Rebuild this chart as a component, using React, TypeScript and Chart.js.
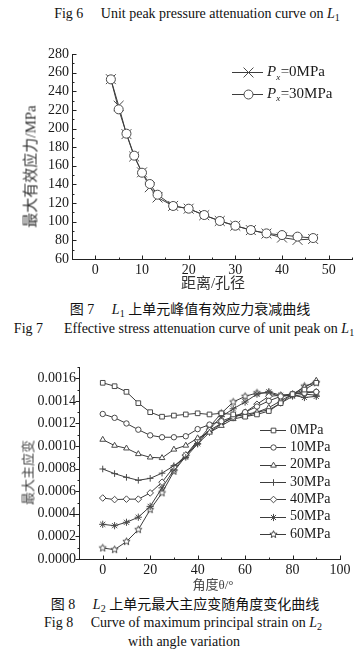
import React, { useEffect, useRef } from 'react';
import { Chart, registerables } from 'chart.js';
import { drawPoint } from 'chart.js/helpers';

Chart.register(...registerables);

// ---------------- Fig 7 data ----------------
const fig7Distance = [3.33, 5, 6.67, 8.33, 10, 11.67, 13.33, 16.67, 20, 23.33, 26.67, 30, 33.33, 36.67, 40, 43.33, 46.67];
const fig7Px0 = [253, 224.5, 194, 170, 153, 137, 126, 117, 114, 107, 100.8, 95.7, 91, 87.3, 83, 80.5, 81.5];
const fig7Px30 = [252.8, 220.6, 194.5, 170.9, 152.6, 140.5, 129, 116.9, 114, 107.2, 100.8, 95.7, 91.1, 87.5, 85.7, 84, 82.5];
const fig7Names = ['Px=0MPa', 'Px=30MPa'];
const fig7XTicks = [0, 10, 20, 30, 40, 50];
const fig7XMinor = [-5, 5, 15, 25, 35, 45, 55];
const fig7YTicks = [60, 80, 100, 120, 140, 160, 180, 200, 220, 240, 260, 280];
const fig7YMinor = [70, 90, 110, 130, 150, 170, 190, 210, 230, 250, 270];
const fig7XTitle = '距离/孔径';
const fig7YTitle = '最大有效应力/MPa';

// ---------------- Fig 8 data ----------------
const fig8Angles = [0, 5, 10, 15, 20, 25, 30, 35, 40, 45, 50, 55, 60, 65, 70, 75, 80, 85, 90];
const fig8P0 = [0.00156, 0.00153, 0.00148, 0.00138, 0.0013, 0.00126, 0.00127, 0.00128, 0.00129, 0.00128, 0.00129, 0.00128, 0.00126, 0.00128, 0.00131, 0.00138, 0.00146, 0.00150, 0.00156];
const fig8P10 = [0.001284, 0.00125, 0.0012, 0.001145, 0.001095, 0.001078, 0.001078, 0.001087, 0.00115, 0.00119, 0.00122, 0.00126, 0.0013, 0.00135, 0.0014, 0.00144, 0.00146, 0.00147, 0.00148];
const fig8P20 = [0.001057, 0.001004, 0.00098, 0.00093, 0.0009, 0.000895, 0.00097, 0.001005, 0.00107, 0.00112, 0.00118, 0.00124, 0.00126, 0.0013, 0.00134, 0.0014, 0.00146, 0.00152, 0.00158];
const fig8P30 = [0.000797, 0.000756, 0.000723, 0.000697, 0.000714, 0.00076, 0.000826, 0.0009, 0.00102, 0.00112, 0.0012, 0.00126, 0.00128, 0.0013, 0.00132, 0.00138, 0.00144, 0.00146, 0.00145];
const fig8P40 = [0.00054, 0.000526, 0.00053, 0.00053, 0.000585, 0.00068, 0.000815, 0.00092, 0.00105, 0.00114, 0.0012, 0.00125, 0.0013, 0.00137, 0.00144, 0.00145, 0.00146, 0.00148, 0.00148];
const fig8P50 = [0.000307, 0.000295, 0.000325, 0.00037, 0.000466, 0.00063, 0.00079, 0.00092, 0.00102, 0.00115, 0.00126, 0.00133, 0.00139, 0.00146, 0.00148, 0.00145, 0.00145, 0.00143, 0.00144];
const fig8P60 = [0.000097, 0.000083, 0.000154, 0.00026, 0.000437, 0.000585, 0.000776, 0.00091, 0.00104, 0.00117, 0.00129, 0.00139, 0.00144, 0.00147, 0.00147, 0.00144, 0.00145, 0.00153, 0.00156];
const fig8Names = ['0MPa', '10MPa', '20MPa', '30MPa', '40MPa', '50MPa', '60MPa'];
const fig8XTicks = [0, 20, 40, 60, 80, 100];
const fig8XMinor = [-10, 10, 30, 50, 70, 90];
const fig8YTicks = [0, 0.0002, 0.0004, 0.0006, 0.0008, 0.001, 0.0012, 0.0014, 0.0016];
const fig8YMinor = [0.0001, 0.0003, 0.0005, 0.0007, 0.0009, 0.0011, 0.0013, 0.0015, 0.0017];
const fig8XTitle = '角度θ/°';
const fig8YTitle = '最大主应变';

// ---------------- styles ----------------
const SERIF = '"Liberation Serif", "Noto Sans CJK SC", serif';
const LINE = '#3c3c3c';
const MARK = '#4a4a4a';
const AXIS = '#222';
const TEXT = '#1a1a1a';

function makeStar(r: number, stroke: string) {
  const size = Math.ceil(r * 2 + 3);
  const c = document.createElement('canvas');
  c.width = size;
  c.height = size;
  const ctx = c.getContext('2d')!;
  const cx = size / 2;
  const cy = size / 2;
  ctx.beginPath();
  for (let i = 0; i < 10; i++) {
    const ang = -Math.PI / 2 + (i * Math.PI) / 5;
    const rr = i % 2 === 0 ? r : r * 0.45;
    ctx.lineTo(cx + rr * Math.cos(ang), cy + rr * Math.sin(ang));
  }
  ctx.closePath();
  ctx.fillStyle = '#fff';
  ctx.fill();
  ctx.strokeStyle = stroke;
  ctx.lineWidth = 1;
  ctx.stroke();
  return c;
}

type AxisTickCfg = { id: string; major: number[]; minor: number[]; majorLen: number; minorLen: number; inward: boolean };

function makeTicksPlugin(axes: AxisTickCfg[]) {
  return {
    id: 'axisTicks',
    afterDraw(chart: any) {
      const ctx = chart.ctx;
      const ca = chart.chartArea;
      ctx.save();
      ctx.strokeStyle = AXIS;
      ctx.lineWidth = 1;
      const ax0 = Math.round(ca.left) + 0.5;
      const ay0 = Math.round(ca.bottom) + 0.5;
      for (const a of axes) {
        const s = chart.scales[a.id];
        const groups: [number[], number][] = [[a.major, a.majorLen], [a.minor, a.minorLen]];
        for (const [vals, len] of groups) {
          for (const v of vals) {
            const p = Math.round(s.getPixelForValue(v)) + 0.5;
            ctx.beginPath();
            if (a.id === 'x') {
              ctx.moveTo(p, ay0);
              ctx.lineTo(p, ay0 + (a.inward ? -len : len));
            } else {
              ctx.moveTo(ax0, p);
              ctx.lineTo(ax0 + (a.inward ? len : -len), p);
            }
            ctx.stroke();
          }
        }
      }
      ctx.restore();
    },
  };
}

type TitleCfg = { text: string; x: number; y: number; size: number; color: string };

function makeTitlesPlugin(titles: TitleCfg[]) {
  return {
    id: 'axisTitles',
    afterDraw(chart: any) {
      const ctx = chart.ctx;
      for (const t of titles) {
        ctx.save();
        ctx.font = `${t.size}px ${SERIF}`;
        ctx.fillStyle = t.color;
        ctx.textAlign = 'center';
        ctx.textBaseline = 'middle';
        ctx.fillText(t.text, t.x, t.y);
        ctx.restore();
      }
    },
  };
}

type LegendCfg = { x0: number; x1: number; textX: number; y0: number; dy: number; size: number };

function makeLegendPlugin(cfg: LegendCfg) {
  return {
    id: 'customLegend',
    afterDraw(chart: any) {
      const ctx = chart.ctx;
      chart.data.datasets.forEach((ds: any, i: number) => {
        const y = cfg.y0 + i * cfg.dy;
        const ly = Math.round(y) + 0.5;
        ctx.save();
        ctx.strokeStyle = ds.borderColor;
        ctx.lineWidth = ds.borderWidth;
        ctx.beginPath();
        ctx.moveTo(cfg.x0, ly);
        ctx.lineTo(cfg.x1, ly);
        ctx.stroke();
        ctx.fillStyle = ds.pointBackgroundColor;
        ctx.strokeStyle = ds.pointBorderColor;
        ctx.lineWidth = ds.pointBorderWidth;
        drawPoint(ctx, { pointStyle: ds.pointStyle, radius: ds.pointRadius, rotation: 0, borderWidth: ds.pointBorderWidth } as any, Math.round((cfg.x0 + cfg.x1) / 2) + 0.5, ly);
        ctx.fillStyle = TEXT;
        ctx.textBaseline = 'middle';
        ctx.textAlign = 'left';
        let x = cfg.textX;
        const label: string = ds.label;
        if (label.startsWith('Px')) {
          ctx.font = `italic ${cfg.size}px ${SERIF}`;
          ctx.fillText('P', x, y);
          x += ctx.measureText('P').width;
          ctx.font = `italic ${Math.round(cfg.size * 0.62)}px ${SERIF}`;
          ctx.fillText('x', x, y + 5);
          x += ctx.measureText('x').width + 0.5;
          ctx.font = `${cfg.size}px ${SERIF}`;
          ctx.fillText(label.slice(2), x, y);
        } else {
          ctx.font = `${cfg.size}px ${SERIF}`;
          ctx.fillText(label, x, y);
        }
        ctx.restore();
      });
    },
  };
}

function axisBase(min: number, max: number, ticks: number[], fit: (s: any) => void, labelCb?: (v: number) => string) {
  return {
    type: 'linear' as const,
    min,
    max,
    afterBuildTicks: (s: any) => {
      s.ticks = ticks.map((v) => ({ value: v }));
    },
    afterFit: fit,
    grid: { display: false, drawTicks: false },
    border: { display: true, color: AXIS, width: 1 },
    ticks: {
      font: { family: SERIF, size: 14 },
      color: TEXT,
      padding: 3,
      maxRotation: 0,
      minRotation: 0,
      autoSkip: false,
      callback: labelCb ? (v: any) => labelCb(Number(v)) : (v: any) => String(v),
    },
  };
}

function Caption({ cy, cx, size = 14, children }: { cy: number; cx: number; size?: number; children: React.ReactNode }) {
  return (
    <div
      style={{
        position: 'absolute',
        left: cx - 250,
        width: 500,
        top: cy - 10,
        height: 20,
        lineHeight: '20px',
        fontSize: size,
        textAlign: 'center',
        whiteSpace: 'pre',
        fontFamily: SERIF,
        color: '#111',
      }}
    >
      {children}
    </div>
  );
}

function VTitle({ cx, cy, size, color, text }: { cx: number; cy: number; size: number; color: string; text: string }) {
  return (
    <div
      style={{
        position: 'absolute',
        left: cx - 100,
        top: cy - size / 2,
        width: 200,
        height: size,
        lineHeight: `${size}px`,
        fontSize: size,
        fontFamily: SERIF,
        color,
        textAlign: 'center',
        whiteSpace: 'pre',
        transform: 'rotate(-90deg)',
        transformOrigin: '50% 50%',
      }}
    >
      {text}
    </div>
  );
}

const subStyle: React.CSSProperties = { fontSize: 10, verticalAlign: '-3px', lineHeight: 0 };

export default function App() {
  const c1 = useRef<HTMLCanvasElement>(null);
  const c2 = useRef<HTMLCanvasElement>(null);

  useEffect(() => {
    const star = makeStar(3.8, MARK);

    const chart1 = new Chart(c1.current!, {
      type: 'line',
      data: {
        datasets: [
          {
            label: fig7Names[0],
            data: fig7Distance.map((x, i) => ({ x, y: fig7Px0[i] })),
            borderColor: LINE,
            borderWidth: 1,
            pointStyle: 'crossRot',
            pointRadius: 7,
            pointBorderColor: MARK,
            pointBackgroundColor: 'rgba(0,0,0,0)',
            pointBorderWidth: 1,
            tension: 0,
            order: 2,
          },
          {
            label: fig7Names[1],
            data: fig7Distance.map((x, i) => ({ x, y: fig7Px30[i] })),
            borderColor: LINE,
            borderWidth: 1,
            pointStyle: 'circle',
            pointRadius: 4.5,
            pointBorderColor: MARK,
            pointBackgroundColor: '#fff',
            pointBorderWidth: 1,
            tension: 0,
            order: 1,
          },
        ],
      },
      options: {
        animation: false,
        responsive: false,
        devicePixelRatio: 1,
        layout: { padding: { top: 18, right: 12, left: 0, bottom: 0 } },
        plugins: { legend: { display: false }, tooltip: { enabled: false } },
        scales: {
          x: axisBase(-5, 55, fig7XTicks, (s) => { s.height = 39; }),
          y: axisBase(60, 280, fig7YTicks, (s) => { s.width = 72; }),
        },
      } as any,
      plugins: [
        makeTicksPlugin([
          { id: 'x', major: fig7XTicks, minor: fig7XMinor, majorLen: 4, minorLen: 2, inward: true },
          { id: 'y', major: fig7YTicks, minor: fig7YMinor, majorLen: 4, minorLen: 2, inward: true },
        ]),
        makeTitlesPlugin([{ text: fig7XTitle, x: 213, y: 248, size: 15, color: '#333' }]),
        makeLegendPlugin({ x0: 232, x1: 263, textX: 267, y0: 36.3, dy: 21.7, size: 15 }),
      ],
    });

    const styles: { ps: any; r: number }[] = [
      { ps: 'rect', r: 3.3 },
      { ps: 'circle', r: 2.7 },
      { ps: 'triangle', r: 3.3 },
      { ps: 'cross', r: 3.3 },
      { ps: 'rectRot', r: 3.3 },
      { ps: 'star', r: 3.6 },
      { ps: star, r: 3.8 },
    ];
    const series = [fig8P0, fig8P10, fig8P20, fig8P30, fig8P40, fig8P50, fig8P60];

    const chart2 = new Chart(c2.current!, {
      type: 'line',
      data: {
        datasets: series.map((vals, k) => ({
          label: fig8Names[k],
          data: fig8Angles.map((x, i) => ({ x, y: vals[i] })),
          borderColor: LINE,
          borderWidth: 1,
          pointStyle: styles[k].ps,
          pointRadius: styles[k].r,
          pointBorderColor: MARK,
          pointBackgroundColor: '#fff',
          pointBorderWidth: 1,
          tension: 0,
        })),
      },
      options: {
        animation: false,
        responsive: false,
        devicePixelRatio: 1,
        layout: { padding: { top: 12, right: 24, left: 0, bottom: 0 } },
        plugins: { legend: { display: false }, tooltip: { enabled: false } },
        scales: {
          x: axisBase(-10, 100, fig8XTicks, (s) => { s.height = 36; }),
          y: axisBase(0, 0.0017, fig8YTicks, (s) => { s.width = 79; }, (v) => v.toFixed(4)),
        },
      } as any,
      plugins: [
        makeTicksPlugin([
          { id: 'x', major: fig8XTicks, minor: fig8XMinor, majorLen: 4, minorLen: 2, inward: true },
          { id: 'y', major: fig8YTicks, minor: fig8YMinor, majorLen: 4, minorLen: 2, inward: false },
        ]),
        makeTitlesPlugin([{ text: fig8XTitle, x: 213, y: 231, size: 13, color: '#444' }]),
        makeLegendPlugin({ x0: 260, x1: 286, textX: 290, y0: 75, dy: 17.35, size: 14 }),
      ],
    });

    return () => {
      chart1.destroy();
      chart2.destroy();
    };
  }, []);

  return (
    <div style={{ position: 'absolute', left: 0, top: 0, width: 364, height: 672, background: '#fff', overflow: 'hidden' }}>
      <Caption cy={14} cx={197}>
        {'Fig 6\u2003 Unit peak pressure attenuation curve on '}
        <i>L</i>
        <span style={subStyle}>1</span>
      </Caption>
      <canvas ref={c1} width={364} height={262} style={{ position: 'absolute', left: 0, top: 36, width: 364, height: 262 }} />
      <VTitle cx={31} cy={166} size={15} color="#333" text={fig7YTitle} />
      <Caption cy={310} cx={190}>
        {'图 7\u2003 '}
        <i>L</i>
        <span style={subStyle}>1</span>
        {' 上单元峰值有效应力衰减曲线'}
      </Caption>
      <Caption cy={329} cx={184}>
        {'Fig 7\u2003  Effective stress attenuation curve of unit peak on '}
        <i>L</i>
        <span style={subStyle}>1</span>
      </Caption>
      <canvas ref={c2} width={364} height={240} style={{ position: 'absolute', left: 0, top: 355, width: 364, height: 240 }} />
      <VTitle cx={28} cy={472} size={13} color="#444" text={fig8YTitle} />
      <Caption cy={605} cx={185}>
        {'图 8\u2003 '}
        <i>L</i>
        <span style={subStyle}>2</span>
        {' 上单元最大主应变随角度变化曲线'}
      </Caption>
      <Caption cy={623} cx={183}>
        {'Fig 8\u2003 Curve of maximum principal strain on '}
        <i>L</i>
        <span style={subStyle}>2</span>
      </Caption>
      <Caption cy={642} cx={184}>
        {'with angle variation'}
      </Caption>
    </div>
  );
}
